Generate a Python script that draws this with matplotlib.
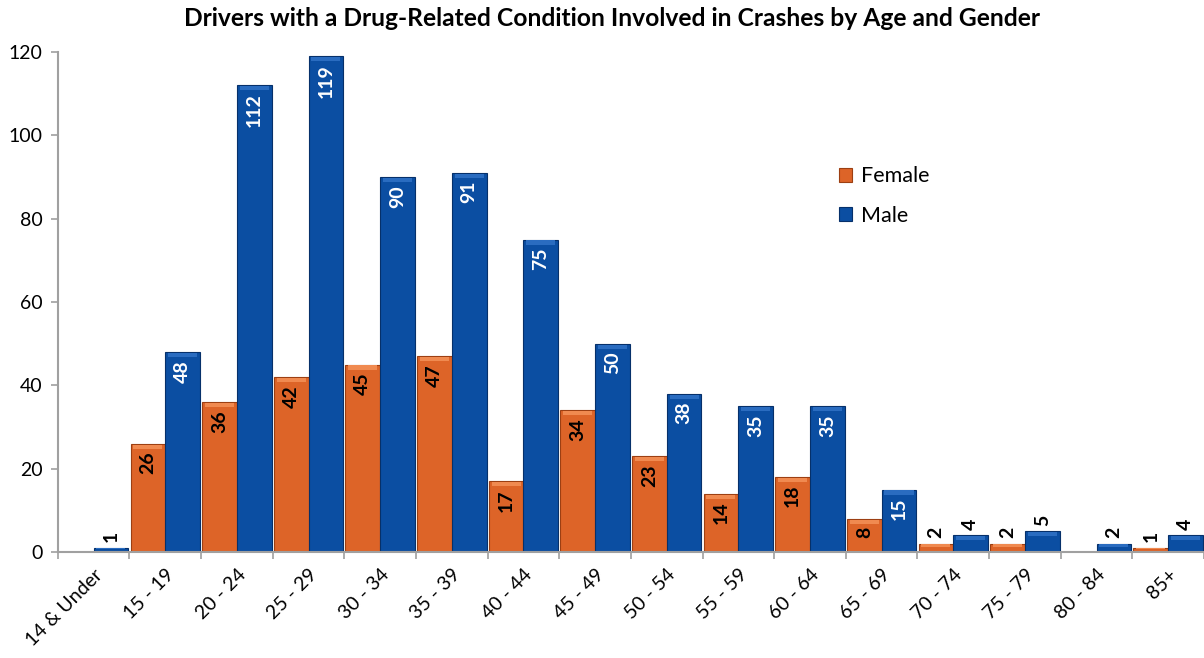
import numpy as np
import matplotlib.pyplot as plt

ages = ["14 & Under", "15 - 19", "20 - 24", "25 - 29", "30 - 34", "35 - 39", "40 - 44",
        "45 - 49", "50 - 54", "55 - 59", "60 - 64", "65 - 69", "70 - 74", "75 - 79",
        "80 - 84", "85+"]
female = [0, 26, 36, 42, 45, 47, 17, 34, 23, 14, 18, 8, 2, 2, 0, 1]
male = [1, 48, 112, 119, 90, 91, 75, 50, 38, 35, 35, 15, 4, 5, 2, 4]

plt.rcParams["font.family"] = ["Lato", "DejaVu Sans"]

col_f = "#DD6428"
col_m = "#0B4EA2"

fig = plt.figure(figsize=(12.04, 6.58), dpi=100)
ax = fig.add_axes([0.048, 0.161, 0.952, 0.76])

x = np.arange(len(ages))
w = 0.485
bf = ax.bar(x - w / 2, female, w, color=col_f, edgecolor="#9C3F12", linewidth=0.8, label="Female")
bm = ax.bar(x + w / 2, male, w, color=col_m, edgecolor="#06306A", linewidth=0.8, label="Male")

# little bevel highlight on top of each bar
for bars, hi in ((bf, "#F08A50"), (bm, "#2A6CC0")):
    for b in bars:
        h = b.get_height()
        if h <= 0:
            continue
        ax.add_patch(plt.Rectangle((b.get_x() + 0.04, h - min(1.2, h * 0.35)), b.get_width() - 0.08,
                                   min(1.0, h * 0.3), color=hi, lw=0, zorder=3))


def label(bars, vals, incol):
    for b, v in zip(bars, vals):
        if v <= 0:
            continue
        cx = b.get_x() + b.get_width() / 2
        if v >= 8:
            ax.text(cx, v - 1.9, str(v), rotation=90, ha="center", va="top",
                    color=incol, fontsize=14, fontweight="bold", zorder=4)
        else:
            ax.text(cx, v + 1.3, str(v), rotation=90, ha="center", va="bottom",
                    color="black", fontsize=14, fontweight="bold", zorder=4)


label(bf, female, "black")
label(bm, male, "white")

ax.set_xlim(-0.5, 15.45)
ax.set_ylim(0, 120)
ax.set_yticks(range(0, 121, 20))
ax.set_xticks(x)
ax.set_xticklabels(ages, rotation=45, ha="right", rotation_mode="anchor", fontsize=14)
ax.set_xticks(np.arange(-0.5, 15.6, 1), minor=True)
ax.tick_params(axis="x", which="major", length=0, pad=10)
ax.tick_params(axis="x", which="minor", length=5, color="#A0A0A0", width=1.2)
ax.tick_params(axis="y", length=5, color="#A0A0A0", width=1.2, labelsize=14, pad=6)

for s in ("top", "right"):
    ax.spines[s].set_visible(False)
for s in ("left", "bottom"):
    ax.spines[s].set_color("#A0A0A0")
    ax.spines[s].set_linewidth(1.5)

ax.legend(loc="upper left", bbox_to_anchor=(0.665, 0.81), frameon=False, fontsize=15.5,
          handlelength=0.6, handleheight=0.6, labelspacing=0.9, handletextpad=0.4)

fig.suptitle("Drivers with a Drug-Related Condition Involved in Crashes by Age and Gender",
             x=0.508, y=0.99, fontsize=17.7, fontweight="bold")

fig.savefig("out.png", dpi=100)
